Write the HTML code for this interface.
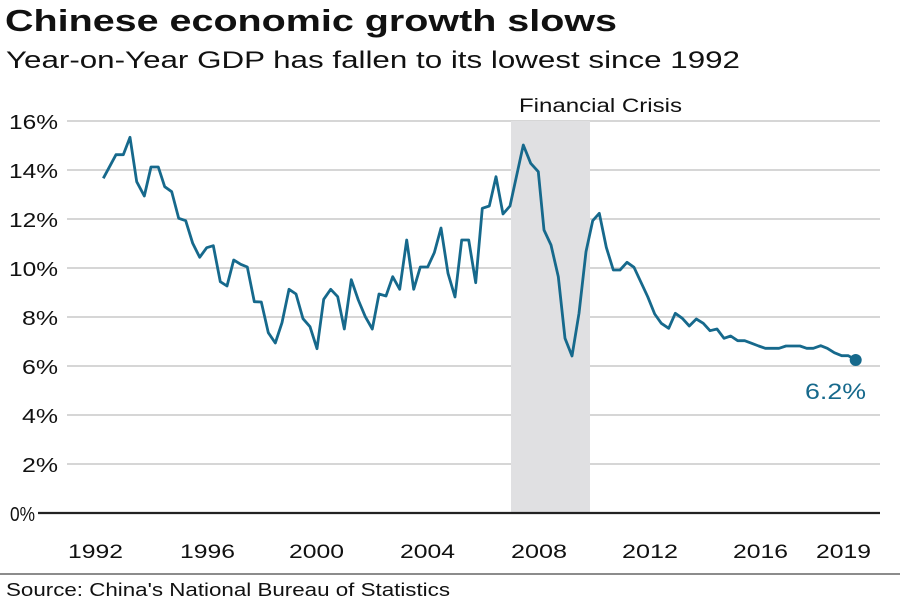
<!DOCTYPE html>
<html><head><meta charset="utf-8"><style>
body{margin:0;background:#fff;}
svg{display:block;font-family:"Liberation Sans",Arial,sans-serif;}
</style></head><body>
<svg width="900" height="600" viewBox="0 0 900 600" xmlns="http://www.w3.org/2000/svg">
<rect width="900" height="600" fill="#fff"/>
<text x="5" y="31" font-size="31" font-weight="bold" fill="#111" textLength="612" lengthAdjust="spacingAndGlyphs">Chinese economic growth slows</text>
<text x="6" y="68" font-size="24" fill="#111" textLength="734" lengthAdjust="spacingAndGlyphs">Year-on-Year GDP has fallen to its lowest since 1992</text>
<g stroke="#c8c8c8" stroke-width="1.5">
<line x1="67" y1="121" x2="880" y2="121"/>
<line x1="67" y1="170" x2="880" y2="170"/>
<line x1="67" y1="219" x2="880" y2="219"/>
<line x1="67" y1="268" x2="880" y2="268"/>
<line x1="67" y1="317" x2="880" y2="317"/>
<line x1="67" y1="366" x2="880" y2="366"/>
<line x1="67" y1="415" x2="880" y2="415"/>
<line x1="67" y1="464" x2="880" y2="464"/>
</g>
<rect x="511" y="121" width="79" height="392" fill="#e0e0e2"/>
<text x="519" y="112" font-size="19" fill="#111" textLength="163" lengthAdjust="spacingAndGlyphs">Financial Crisis</text>
<line x1="38" y1="513" x2="880" y2="513" stroke="#222" stroke-width="2.2"/>
<g font-size="20" fill="#111">
<text x="9" y="129" textLength="49" lengthAdjust="spacingAndGlyphs">16%</text>
<text x="9" y="178" textLength="49" lengthAdjust="spacingAndGlyphs">14%</text>
<text x="9" y="227" textLength="49" lengthAdjust="spacingAndGlyphs">12%</text>
<text x="9" y="276" textLength="49" lengthAdjust="spacingAndGlyphs">10%</text>
<text x="22" y="325" textLength="36" lengthAdjust="spacingAndGlyphs">8%</text>
<text x="22" y="374" textLength="36" lengthAdjust="spacingAndGlyphs">6%</text>
<text x="22" y="423" textLength="36" lengthAdjust="spacingAndGlyphs">4%</text>
<text x="22" y="472" textLength="36" lengthAdjust="spacingAndGlyphs">2%</text>
<text x="10" y="521" textLength="25" lengthAdjust="spacingAndGlyphs">0%</text>
</g>
<g font-size="19" fill="#111">
<text x="68" y="558" textLength="55" lengthAdjust="spacingAndGlyphs">1992</text>
<text x="180" y="558" textLength="55" lengthAdjust="spacingAndGlyphs">1996</text>
<text x="289" y="558" textLength="55" lengthAdjust="spacingAndGlyphs">2000</text>
<text x="400" y="558" textLength="55" lengthAdjust="spacingAndGlyphs">2004</text>
<text x="511" y="558" textLength="56" lengthAdjust="spacingAndGlyphs">2008</text>
<text x="622" y="558" textLength="56" lengthAdjust="spacingAndGlyphs">2012</text>
<text x="733" y="558" textLength="55" lengthAdjust="spacingAndGlyphs">2016</text>
<text x="816" y="558" textLength="55" lengthAdjust="spacingAndGlyphs">2019</text>
</g>
<line x1="0" y1="574" x2="900" y2="574" stroke="#666" stroke-width="1.5"/>
<text x="6" y="596" font-size="18" fill="#111" textLength="444" lengthAdjust="spacingAndGlyphs">Source: China's National Bureau of Statistics</text>
<polyline fill="none" stroke="#16698c" stroke-width="2.8" stroke-linejoin="round" points="103.3,178.3 116,154.7 123.3,154.7 130,137.3 136.7,181.7 144.3,196 151,167 158.3,167 164.7,186.7 171.7,191.7 178.7,218.3 185.7,220.7 192.7,243.3 199.7,257.3 206.7,247.7 213.3,245.7 220.3,281.7 227,286 233.7,260 240.7,264.3 247.3,267 254.3,301.7 261.3,302 268.3,332.7 275.3,343 282,322.7 289,289.3 296,294 303,318.7 310,326.7 317,348.7 323.7,299.3 330.7,289.3 337.7,296.7 344.3,329 351.3,279.7 358.3,300 365.3,316.7 372.3,329 379,294 386,296 392.7,276.7 399.7,289.3 406.7,240 413.7,289.3 420.3,267 427.7,267 434.3,252.7 441,228 448,273.3 455,297 461.7,240 468.7,240 475.7,282.7 482.3,208.3 489.3,206 496,176.7 503,214 510,206 523.3,145 530.7,163.3 538.3,171.7 544,230 551,245 558.3,276.7 565,338.3 572,356 579,313.3 586,251.7 592.7,220.7 599.3,213.3 606.3,247.3 613.3,270 620,270 627,262.3 634,267.3 640.7,281.7 647.7,296.7 654.7,314 661.3,323.3 668.7,328.3 675.3,313.3 682.3,318.3 689.3,326 696.3,319 703.3,323.3 710,330.7 717,329 724,338.3 730.7,336 737.7,340.7 744.7,340.7 751.7,343.3 758.7,346 765.3,348.3 779,348.3 786,346 800,346 806.7,348.3 813.3,348.3 820.7,345.7 827.3,348.3 834.3,352.7 841.7,355.7 848.3,355.7 855.7,360"/>
<circle cx="855.7" cy="360" r="6" fill="#16698c"/>
<text x="805" y="399" font-size="22" fill="#16698c" textLength="61" lengthAdjust="spacingAndGlyphs">6.2%</text>
</svg>
</body></html>
